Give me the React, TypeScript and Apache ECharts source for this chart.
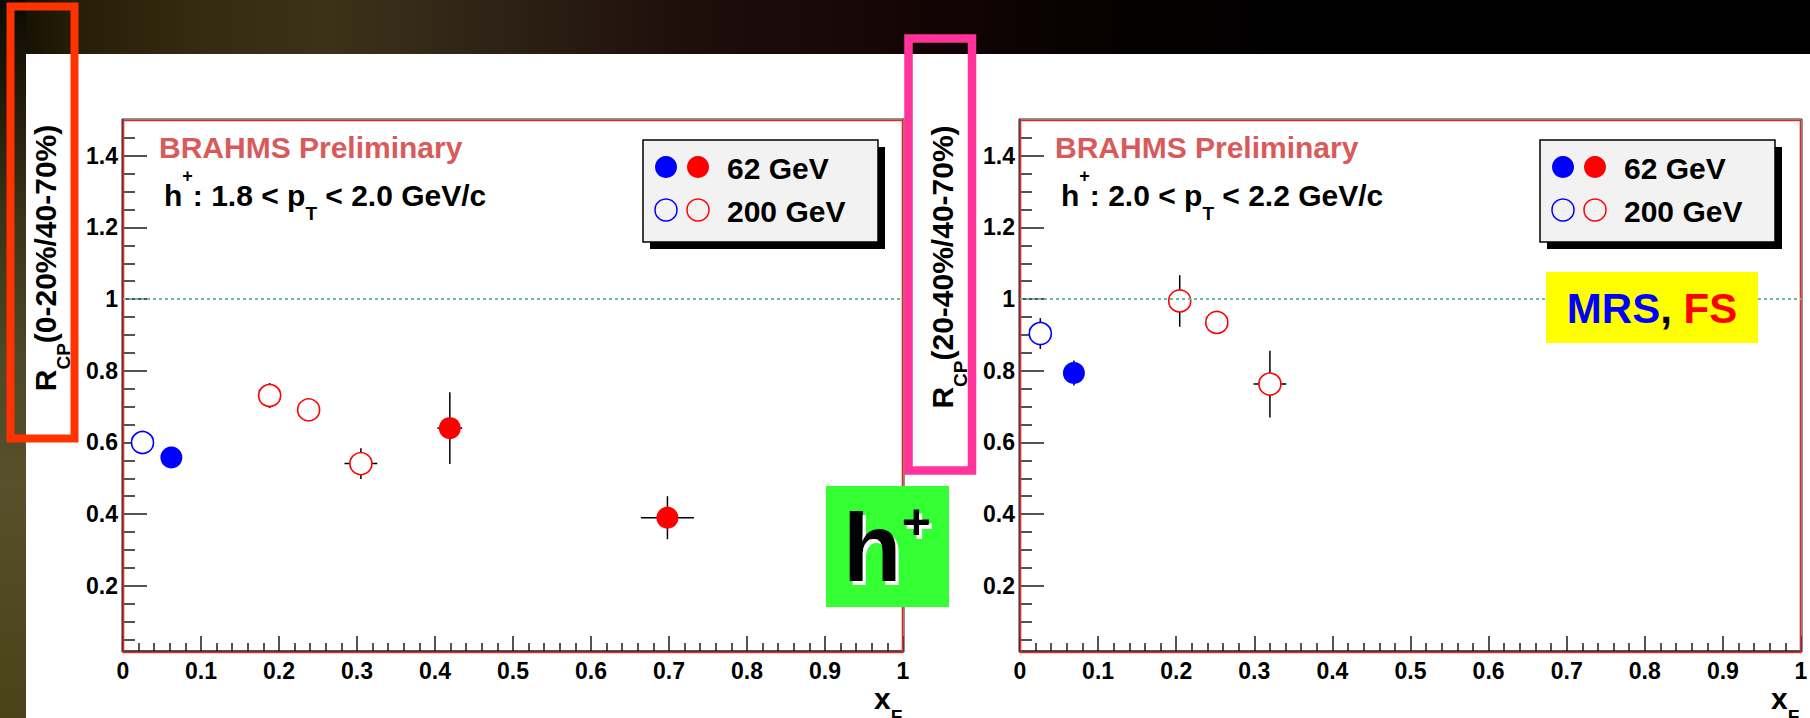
import React, { useEffect, useRef } from 'react';
import * as echarts from 'echarts';

const FONT = '"Liberation Sans", Arial, Helvetica, sans-serif';
const BLUE = '#0000ff';
const RED = '#ff0000';
const AXIS = '#1a1a1a';

// axis ranges and ticks
const xMin = 0;
const xMax = 1;
const xStep = 0.1;
const yMin = 0.018;
const yMax = 1.5;
const yTickValues = [0.2, 0.4, 0.6, 0.8, 1, 1.2, 1.4];
const yMinorTickValues = [0.05, 0.1, 0.15, 0.25, 0.3, 0.35, 0.45, 0.5, 0.55, 0.65, 0.7, 0.75, 0.85, 0.9, 0.95, 1.05, 1.1, 1.15, 1.25, 1.3, 1.35, 1.45];
const referenceLevel = 1;

// points: [xF, R_CP, xF error, R_CP error]
const left62Blue = [[0.062, 0.558, 0, 0.015]];
const left62Red = [[0.419, 0.640, 0.016, 0.100], [0.698, 0.390, 0.034, 0.060]];
const left200Blue = [[0.025, 0.600, 0, 0.015]];
const left200Red = [[0.188, 0.731, 0, 0.035], [0.238, 0.691, 0, 0.030], [0.305, 0.541, 0.021, 0.043]];

const right62Blue = [[0.069, 0.794, 0, 0.035]];
const right62Red: number[][] = [];
const right200Blue = [[0.026, 0.904, 0, 0.043]];
const right200Red = [[0.2045, 0.995, 0, 0.072], [0.252, 0.935, 0, 0.025], [0.320, 0.763, 0.021, 0.093]];

// texts
const brahmsLabel = 'BRAHMS Preliminary';
const leftCut = ['h', '+', ': 1.8 < p', 'T', ' < 2.0 GeV/c'];
const rightCut = ['h', '+', ': 2.0 < p', 'T', ' < 2.2 GeV/c'];
const leftYTitle = ['R', 'CP', '(0-20%/40-70%)'];
const rightYTitle = ['R', 'CP', '(20-40%/40-70%)'];
const xTitle = ['x', 'F'];
const legendLabels = ['62 GeV', '200 GeV'];
const particleLabel = ['h', '+'];
const spectrometerLabel = ['MRS', ', ', 'FS'];

// layout
const GRIDS = [
  { left: 123, top: 120, width: 780, height: 531 },
  { left: 1020, top: 120, width: 781, height: 531 },
];

const richStyles = (size: number, color = '#000') => ({
  m: { fontSize: size, fontWeight: 'bold', fontFamily: FONT, fill: color, lineHeight: 56 },
  sup: { fontSize: Math.round(size * 0.6), fontWeight: 'bold', fontFamily: FONT, fill: color, lineHeight: 32, verticalAlign: 'top' },
  sub: { fontSize: Math.round(size * 0.64), fontWeight: 'bold', fontFamily: FONT, fill: color, lineHeight: 16, verticalAlign: 'bottom' },
});

function cutText(parts: string[]) {
  return `{m|${parts[0]}}{sup|${parts[1]}}{m|${parts[2]}}{sub|${parts[3]}}{m|${parts[4]}}`;
}

function richText(x: number, y: number, text: string, extra: any = {}) {
  return {
    type: 'text',
    x,
    y,
    z: 20,
    silent: true,
    ...extra,
    style: {
      text,
      rich: richStyles(30),
      align: 'left',
      verticalAlign: 'middle',
      fontSize: 30,
      fontWeight: 'bold',
      fontFamily: FONT,
      fill: '#000',
      ...(extra.style || {}),
    },
  };
}

function plainText(x: number, y: number, text: string, size: number, fill: string, align = 'left') {
  return {
    type: 'text',
    x,
    y,
    z: 20,
    silent: true,
    style: { text, fontSize: size, fontWeight: 'bold', fontFamily: FONT, fill, align, verticalAlign: 'middle' },
  };
}

function legend(x: number, y: number) {
  const w = 235;
  const h = 102;
  const mk = (cx: number, cy: number, color: string, filled: boolean) => ({
    type: 'circle',
    z: 22,
    silent: true,
    shape: { cx, cy, r: 11 },
    style: filled ? { fill: color } : { fill: 'none', stroke: color, lineWidth: 1.5 },
  });
  return [
    { type: 'rect', z: 19, silent: true, shape: { x: x + 7, y: y + 7, width: w, height: h }, style: { fill: '#000' } },
    { type: 'rect', z: 20, silent: true, shape: { x, y, width: w, height: h }, style: { fill: '#f2f2f2', stroke: '#000', lineWidth: 1.5 } },
    mk(x + 23, y + 27, BLUE, true),
    mk(x + 55, y + 27, RED, true),
    mk(x + 23, y + 70, BLUE, false),
    mk(x + 55, y + 70, RED, false),
    { ...plainText(x + 84, y + 28, legendLabels[0], 30, '#000'), z: 22 },
    { ...plainText(x + 84, y + 71, legendLabels[1], 30, '#000'), z: 22 },
  ];
}

function errorSeries(gridIndex: number, data: number[][]) {
  return {
    type: 'custom',
    xAxisIndex: gridIndex,
    yAxisIndex: gridIndex * 2,
    z: 2,
    silent: true,
    encode: { x: 0, y: 1 },
    data,
    renderItem: (params: any, api: any) => {
      const x = api.value(0);
      const y = api.value(1);
      const xe = api.value(2);
      const ye = api.value(3);
      const children: any[] = [];
      const st = { stroke: '#000', lineWidth: 1.5 };
      if (ye > 0) {
        const a = api.coord([x, y + ye]);
        const b = api.coord([x, y - ye]);
        children.push({ type: 'line', shape: { x1: a[0], y1: a[1], x2: b[0], y2: b[1] }, style: st });
      }
      if (xe > 0) {
        const a = api.coord([x - xe, y]);
        const b = api.coord([x + xe, y]);
        children.push({ type: 'line', shape: { x1: a[0], y1: a[1], x2: b[0], y2: b[1] }, style: st });
      }
      return { type: 'group', children };
    },
    markLine: {
      silent: true,
      symbol: ['none', 'none'],
      label: { show: false },
      lineStyle: { color: '#6fb99c', width: 2.2, type: [3, 3] },
      data: [{ yAxis: referenceLevel }],
    },
  };
}

function markerSeries(gridIndex: number, data: number[][], color: string, filled: boolean) {
  return {
    type: 'scatter',
    xAxisIndex: gridIndex,
    yAxisIndex: gridIndex * 2,
    z: 3,
    silent: true,
    symbol: 'circle',
    symbolSize: 22,
    data: data.map((p) => [p[0], p[1]]),
    itemStyle: filled ? { color, opacity: 1 } : { color: '#fff', borderColor: color, borderWidth: 1.6, opacity: 1 },
  };
}

function buildOption() {
  const xAxes: any[] = [];
  const yAxes: any[] = [];
  GRIDS.forEach((_, i) => {
    xAxes.push({
      type: 'value',
      gridIndex: i,
      min: xMin,
      max: xMax,
      interval: xStep,
      axisLine: { show: true, lineStyle: { color: AXIS, width: 1.5 } },
      axisTick: { show: true, inside: true, length: 15, lineStyle: { color: AXIS, width: 1.5 } },
      minorTick: { show: true, splitNumber: 5, length: 8, lineStyle: { color: AXIS, width: 1.5 } },
      splitLine: { show: false },
      minorSplitLine: { show: false },
      axisLabel: {
        show: true,
        margin: 8,
        color: '#000',
        fontSize: 23,
        fontWeight: 'bold',
        fontFamily: FONT,
        formatter: (v: number) => String(Math.round(v * 10) / 10),
      },
    });
    yAxes.push({
      type: 'value',
      gridIndex: i,
      min: yMin,
      max: yMax,
      position: 'left',
      axisLine: { show: true, lineStyle: { color: AXIS, width: 1.5 } },
      axisTick: { show: true, inside: true, length: 24, customValues: yTickValues, lineStyle: { color: AXIS, width: 1.5 } },
      splitLine: { show: false },
      axisLabel: {
        show: true,
        customValues: yTickValues,
        margin: 5,
        color: '#000',
        fontSize: 23,
        fontWeight: 'bold',
        fontFamily: FONT,
        formatter: (v: number) => String(Math.round(v * 10) / 10),
      },
    });
    yAxes.push({
      type: 'value',
      gridIndex: i,
      min: yMin,
      max: yMax,
      position: 'left',
      axisLine: { show: false },
      axisTick: { show: true, inside: true, length: 12, customValues: yMinorTickValues, lineStyle: { color: AXIS, width: 1.5 } },
      splitLine: { show: false },
      axisLabel: { show: false },
    });
  });

  const series: any[] = [
    errorSeries(0, [...left62Blue, ...left62Red, ...left200Blue, ...left200Red]),
    markerSeries(0, left62Blue, BLUE, true),
    markerSeries(0, left62Red, RED, true),
    markerSeries(0, left200Blue, BLUE, false),
    markerSeries(0, left200Red, RED, false),
    errorSeries(1, [...right62Blue, ...right62Red, ...right200Blue, ...right200Red]),
    markerSeries(1, right62Blue, BLUE, true),
    markerSeries(1, right62Red, RED, true),
    markerSeries(1, right200Blue, BLUE, false),
    markerSeries(1, right200Red, RED, false),
  ];

  const frames: any[] = [];
  GRIDS.forEach((g) => {
    frames.push({
      type: 'rect', z: 1, silent: true,
      shape: { x: g.left - 1, y: g.top - 1, width: g.width + 2, height: g.height + 2 },
      style: { fill: 'none', stroke: '#222', lineWidth: 1 },
    });
    frames.push({
      type: 'rect', z: 1, silent: true,
      shape: { x: g.left + 0.5, y: g.top + 0.5, width: g.width - 1, height: g.height + 1 },
      style: { fill: 'none', stroke: '#e02a2a', lineWidth: 1.6 },
    });
  });

  const graphics: any[] = [
    ...frames,
    // panel labels
    plainText(159, 147, brahmsLabel, 30, '#d95a5a'),
    richText(164, 195, cutText(leftCut)),
    plainText(1055, 147, brahmsLabel, 30, '#d95a5a'),
    richText(1061, 195, cutText(rightCut)),
    ...legend(643, 140),
    ...legend(1540, 140),
    // y titles
    richText(45, 258, `{m|${leftYTitle[0]}}{sub|${leftYTitle[1]}}{m|${leftYTitle[2]}}`, { rotation: Math.PI / 2, style: { align: 'center' } }),
    richText(942, 267, `{m|${rightYTitle[0]}}{sub|${rightYTitle[1]}}{m|${rightYTitle[2]}}`, { rotation: Math.PI / 2, style: { align: 'center' } }),
    // x titles
    richText(874, 698, `{m|${xTitle[0]}}{sub|${xTitle[1]}}`),
    richText(1771, 698, `{m|${xTitle[0]}}{sub|${xTitle[1]}}`),
    // highlight boxes
    { type: 'rect', z: 30, silent: true, shape: { x: 10.5, y: 6.5, width: 64, height: 432 }, style: { fill: 'none', stroke: '#ff3300', lineWidth: 8 } },
    { type: 'rect', z: 30, silent: true, shape: { x: 908.5, y: 38.5, width: 63.5, height: 432 }, style: { fill: 'none', stroke: '#ff3399', lineWidth: 8.5 } },
    // h+ box
    { type: 'rect', z: 30, silent: true, shape: { x: 826, y: 486, width: 123, height: 121 }, style: { fill: '#33ff33' } },
    {
      type: 'text', z: 32, silent: true, x: 843, y: 547,
      style: {
        text: `{h|${particleLabel[0]}}{p|${particleLabel[1]}}`,
        align: 'left',
        verticalAlign: 'middle',
        fontSize: 96,
        fontWeight: 'bold',
        fontFamily: FONT,
        fill: '#000',
        textShadowColor: '#ffffff',
        textShadowOffsetX: 3,
        textShadowOffsetY: 4,
        textShadowBlur: 0.01,
        rich: {
          h: { fontSize: 96, fontWeight: 'bold', fontFamily: FONT, fill: '#000', lineHeight: 100, textShadowColor: '#ffffff', textShadowOffsetX: 3, textShadowOffsetY: 4, textShadowBlur: 0.01 },
          p: { fontSize: 50, fontWeight: 'bold', fontFamily: FONT, fill: '#000', lineHeight: 72, verticalAlign: 'top', textShadowColor: '#ffffff', textShadowOffsetX: 3, textShadowOffsetY: 4, textShadowBlur: 0.01 },
        },
      },
    },
    // MRS, FS box
    { type: 'rect', z: 30, silent: true, shape: { x: 1546, y: 272, width: 212, height: 71 }, style: { fill: '#ffff00' } },
    {
      type: 'text', z: 31, silent: true, x: 1652, y: 308,
      style: {
        text: `{b|${spectrometerLabel[0]}}{k|${spectrometerLabel[1]}}{r|${spectrometerLabel[2]}}`,
        align: 'center',
        verticalAlign: 'middle',
        fontSize: 42,
        fontWeight: 'bold',
        fontFamily: FONT,
        rich: {
          b: { fontSize: 42, fontWeight: 'bold', fontFamily: FONT, fill: BLUE },
          k: { fontSize: 42, fontWeight: 'bold', fontFamily: FONT, fill: '#000' },
          r: { fontSize: 42, fontWeight: 'bold', fontFamily: FONT, fill: RED },
        },
      },
    },
  ];

  return {
    animation: false,
    backgroundColor: 'transparent',
    grid: GRIDS.map((g) => ({ ...g, show: false, containLabel: false, outerBoundsMode: 'none' })),
    xAxis: xAxes,
    yAxis: yAxes,
    series,
    graphic: { elements: graphics },
  };
}

export default function App() {
  const ref = useRef<HTMLDivElement | null>(null);
  useEffect(() => {
    if (!ref.current) return;
    const chart = echarts.init(ref.current, null, { renderer: 'svg' });
    chart.setOption(buildOption() as any);
    return () => chart.dispose();
  }, []);
  return (
    <div
      style={{
        position: 'fixed',
        left: 0,
        top: 0,
        width: 1810,
        height: 718,
        background:
          'linear-gradient(#ffffff, #ffffff) 26px 54px / 1784px 664px no-repeat, ' +
          'linear-gradient(180deg, #0c0a04 0px, #1e1a0a 90px, #3a3418 220px, #4f4826 360px, #57502a 480px, #4a4218 718px) 0 0 / 26px 718px no-repeat, ' +
          'linear-gradient(90deg, #0e0b03 0px, #261d07 70px, #352b12 200px, #3c3219 330px, #2e2416 480px, #1f0f0b 680px, #150505 900px, #070101 1100px, #000000 1300px)',
      }}
    >
      <div ref={ref} style={{ width: 1810, height: 718 }} />
    </div>
  );
}
